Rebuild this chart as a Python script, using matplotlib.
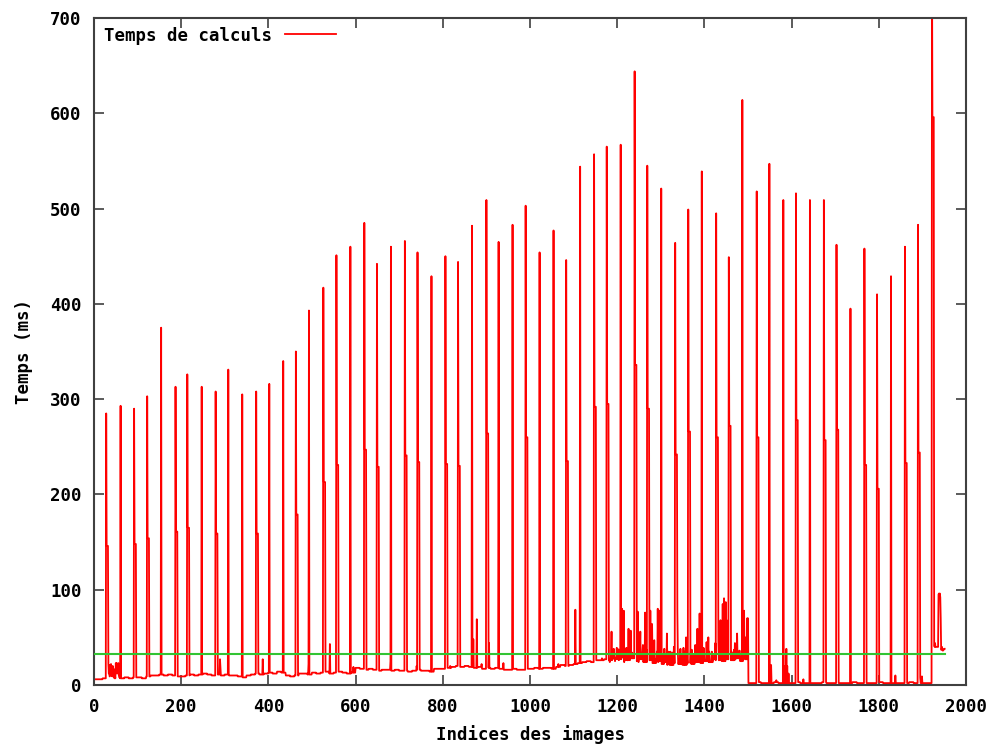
import numpy as np
import matplotlib.pyplot as plt

# ================= Data =================
n_frames = 1952
block_len = 10  # baseline given as one level per block of 10 images

baseline_blocks = [
    6, 6, 7, 7, 7, 8, 7, 8, 7, 8, 8, 7, 9, 10, 10, 11, 10, 11, 10, 9,
    9, 10, 11, 10, 11, 12, 11, 10, 11, 10, 11, 10, 10, 9, 8, 10, 11, 12, 11, 12,
    13, 12, 14, 13, 10, 9, 10, 12, 12, 11, 13, 12, 13, 14, 12, 13, 14, 13, 12, 13,
    18, 17, 16, 17, 16, 15, 16, 16, 15, 16, 15, 15, 14, 15, 16, 15, 15, 14, 17, 17,
    17, 18, 19, 20, 19, 20, 19, 18, 19, 17, 18, 17, 18, 17, 16, 16, 17, 16, 16, 17,
    17, 18, 17, 18, 18, 17, 19, 21, 20, 21, 22, 23, 24, 25, 24, 26, 26, 27, 26, 28,
    27, 29, 26, 28, 25, 27, 24, 26, 23, 25, 22, 24, 21, 23, 22, 21, 23, 22, 24, 23,
    25, 24, 27, 26, 25, 27, 26, 28, 25, 27,
    2, 2, 3, 2, 2, 2, 3, 2, 2, 2, 2, 3, 2, 2, 2, 2, 2, 3, 2, 2, 2,
    2, 2, 2, 3, 2, 2, 2, 2, 2, 3, 2, 2, 2, 2, 2, 2, 3, 2, 2, 2, 2,
    45, 40, 37, 38,
]

# periodic peaks: image index, peak time (ms)
peak_frames = [28, 61, 92, 122, 154, 187, 214, 247, 279, 308, 340, 372, 402, 434,
               463, 493, 526, 556, 588, 620, 649, 681, 713, 742, 774, 806, 835, 867,
               900, 928, 960, 990, 1022, 1054, 1083, 1115, 1147, 1176, 1208, 1240,
               1269, 1301, 1333, 1363, 1394, 1427, 1456, 1487, 1520, 1549, 1581,
               1610, 1642, 1674, 1703, 1735, 1767, 1796, 1828, 1860, 1890, 1922]
peak_values = [285, 293, 290, 303, 375, 313, 326, 313, 308, 331, 305, 308, 316, 340,
               350, 393, 417, 451, 460, 485, 442, 460, 466, 454, 429, 450, 444, 482,
               509, 465, 483, 503, 454, 477, 446, 544, 557, 565, 567, 644,
               545, 521, 464, 499, 539, 495, 449, 614, 518, 547, 509,
               516, 509, 509, 462, 395, 458, 410, 429, 460, 483, 760]

# secondary peak that follows some of the main peaks
second_frames = [28, 92, 122, 187, 214, 279, 372, 463, 526, 556, 620, 649, 713, 742,
                 806, 835, 900, 990, 1083, 1147, 1176, 1240, 1269, 1333, 1363, 1427,
                 1456, 1520, 1610, 1674, 1703, 1767, 1796, 1860, 1890, 1922]
second_values = [146, 148, 154, 161, 165, 159, 159, 179, 213, 231, 247, 229, 241, 234,
                 232, 230, 264, 260, 235, 292, 295, 336, 290, 242, 266, 260,
                 272, 260, 278, 257, 268, 231, 206, 233, 244, 596]

# jittery band between images 1180 and 1500 (one sample every 3 images)
band_start, band_step = 1180, 3
band_values = [30, 24, 34, 27, 36, 25, 31, 38, 26, 33, 29, 37, 24, 35, 28, 32, 38, 25,
               34, 30, 36, 27, 33, 24, 38, 29, 35, 26, 31, 37, 25, 34, 28, 36, 23, 32,
               27, 35, 24, 30, 36, 22, 33, 26, 31, 21, 35, 25, 29, 34, 22, 30, 24, 36,
               27, 23, 32, 25, 35, 22, 29, 33, 24, 37, 26, 31, 23, 34, 28, 36, 25, 32,
               27, 38, 26, 33, 29, 35, 24, 37, 28, 32, 26, 36, 30, 34, 27, 38, 25, 33,
               29, 36, 26, 31, 35, 28, 37, 27, 34, 30, 36, 26, 33, 29, 35, 28, 32]

# isolated noisy samples
noise_frames = [31, 32, 33, 34, 35, 36, 37, 38, 39, 40, 41, 42, 43, 44, 45, 46, 48,
                50, 51, 52, 53, 54, 55, 56, 57, 58,
                289, 290, 387, 492, 541, 595, 680, 740, 817, 870, 878, 889, 906, 939,
                1065, 1104, 1165,
                1187, 1192, 1199, 1205, 1211, 1215, 1221, 1226, 1231, 1247, 1253, 1259,
                1264, 1276, 1280, 1285, 1293, 1297, 1308, 1314, 1322, 1330, 1338, 1345,
                1352, 1358, 1371, 1379, 1384, 1389, 1398, 1405, 1409, 1417, 1425, 1429,
                1432, 1437, 1442, 1445, 1449, 1451, 1465, 1470, 1475, 1481, 1490, 1491,
                1495, 1498, 1500,
                1553, 1565, 1583, 1585, 1588, 1590, 1593, 1627, 1838, 1892, 1895, 1899,
                1920, 1921, 1926, 1927, 1928, 1929, 1937, 1938, 1939, 1940, 1941, 1942,
                1945, 1947]
noise_values = [19, 10, 22, 12, 21, 9, 20, 14, 22, 10, 18, 9, 20, 12, 17, 8, 9,
                23, 14, 23, 12, 22, 16, 23, 10, 8,
                27, 18, 27, 22, 43, 19, 25, 20, 20, 48, 69, 22, 44, 23,
                22, 79, 28,
                56, 38, 39, 37, 80, 78, 39, 59, 57, 77, 56, 42,
                76, 78, 64, 47, 80, 78, 38, 54, 35, 40, 77, 38,
                39, 50, 37, 42, 59, 75, 39, 45, 50, 35, 44, 52,
                47, 68, 85, 91, 87, 68, 33, 44, 54, 36, 56, 78,
                50, 70, 70,
                21, 5, 20, 20, 38, 20, 12, 6, 10, 10, 8, 9,
                2, 2, 47, 42, 40, 44, 95, 96, 94, 96, 92, 70,
                40, 36]

mean_value = 32.4

# ================= Build the series =================
frames = np.arange(n_frames)
times = np.repeat(baseline_blocks, block_len)[:n_frames].astype(float)
band_frames = band_start + band_step * np.arange(len(band_values))
times[band_frames] = band_values
times[noise_frames] = noise_values
times[peak_frames] = peak_values
for f, v in zip(second_frames, second_values):
    times[f + 1:f + 5] = v

# ================= Plot =================
mono = {'family': 'DejaVu Sans Mono', 'weight': 'bold', 'size': 12.5}

fig = plt.figure(figsize=(9.94, 7.44), dpi=100)
ax = fig.add_axes([94 / 994, 1 - 685 / 744, 872 / 994, 667 / 744])

ax.plot(frames, times, color='#ff0000', lw=1.3, label='Temps de calculs', zorder=2)
ax.plot(frames[[0, -1]], [mean_value, mean_value], color='#33c433', lw=1.5, zorder=3)

ax.set_xlim(0, 2000)
ax.set_ylim(0, 700)
ax.set_xticks(np.arange(0, 2001, 200))
ax.set_yticks(np.arange(0, 701, 100))

for s in ax.spines.values():
    s.set_color('#404040')
    s.set_linewidth(1.5)
ax.tick_params(direction='in', length=7, width=1.2, color='#404040',
               top=True, right=True, pad=9)
for lab in ax.get_xticklabels() + ax.get_yticklabels():
    lab.set_fontproperties(mono)

ax.set_xlabel('Indices des images', fontdict=mono, labelpad=7)
ax.set_ylabel('Temps (ms)', fontdict=mono, labelpad=12)

ax.legend(loc='upper left', bbox_to_anchor=(-0.004, 1.008), frameon=False,
          markerfirst=False, handlelength=2.9, handletextpad=0.75,
          borderpad=0.3, prop=mono)

fig.savefig('out.png', dpi=100)
